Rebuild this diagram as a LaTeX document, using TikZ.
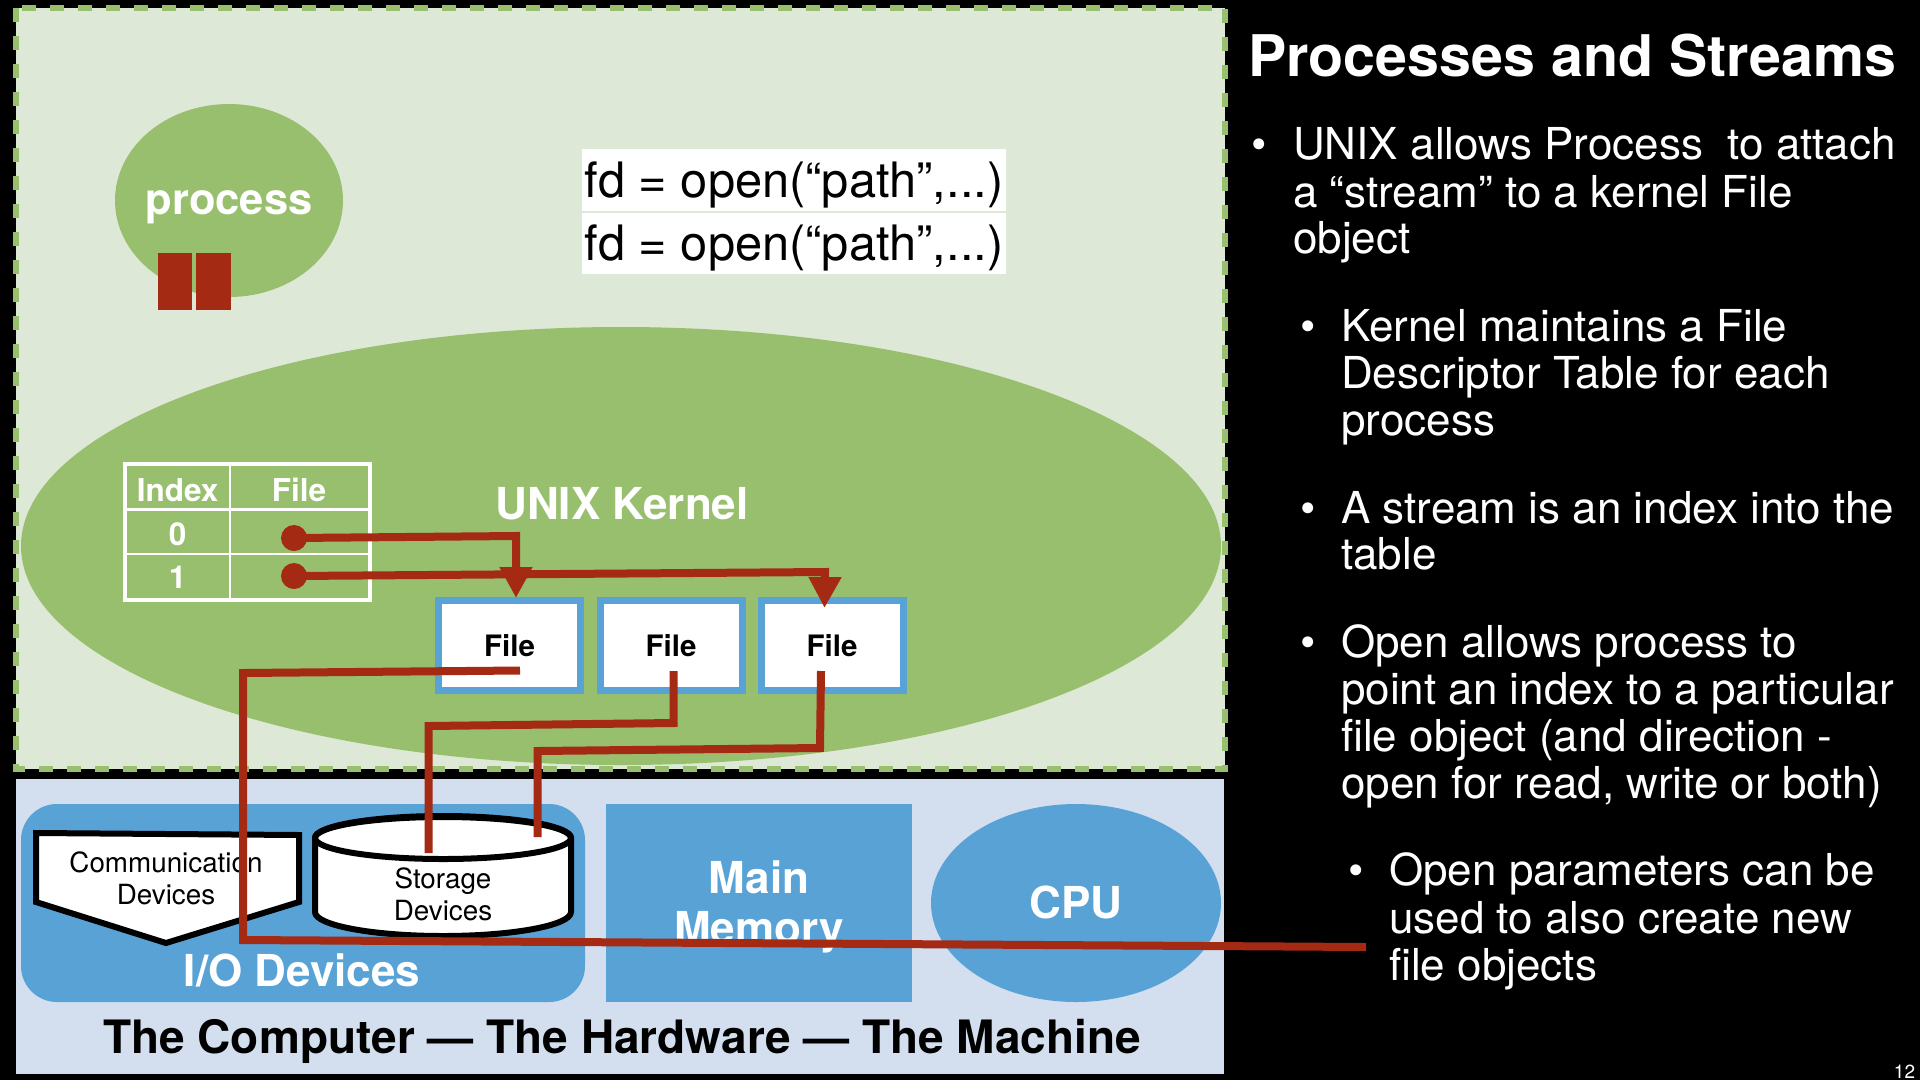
\documentclass[tikz,border=0pt]{standalone}
\usepackage{fontspec}
\setmainfont{TeX Gyre Heros}
\usetikzlibrary{arrows.meta,shapes.geometric}
\newcommand{\fsz}[1]{\fontsize{#1}{#1}\selectfont}
\definecolor{lgreen}{HTML}{DDE9D6}
\definecolor{mgreen}{HTML}{98BF6D}
\definecolor{mblue}{HTML}{58A2D6}
\definecolor{lblue}{HTML}{D3DFEF}
\definecolor{wirered}{HTML}{A42A14}
\tikzset{
  lbl/.style={inner sep=0pt,anchor=base,align=center},
  wlbl/.style={lbl,text=white,font=\bfseries\fsz{44}},
  wire/.style={draw=wirered,line width=8pt,line join=miter,line cap=butt},
  wirearrow/.style={wire,-{Triangle[width=31pt,length=31pt,fill=wirered]}},
  filebox/.style={draw=mblue,fill=white,line width=7pt,minimum width=142pt,minimum height=90pt,inner sep=0pt,font=\bfseries\fsz{29.5},text=black},
  tabtxt/.style={lbl,text=white,font=\bfseries\fsz{31.5}},
  pinhead/.style={circle,fill=wirered,minimum size=26pt,inner sep=0pt},
  body/.style={inner sep=0pt,anchor=base west,text=white,font=\fsz{44}},
  tabline/.style={draw=white,line width=2pt},
  iotxt/.style={lbl,text=black,font=\fsz{27.8}},
}
\begin{document}
\begin{tikzpicture}[x=1pt,y=-1pt]
\useasboundingbox (0,0) rectangle (1920,1080);
\fill[black] (0,0) rectangle (1920,1080);

% software area
\draw[fill=lgreen,draw=mgreen,line width=6.5pt,dash pattern=on 14pt off 14pt] (16,8) rectangle (1225,769);
\node[ellipse,fill=mgreen,minimum width=228pt,minimum height=193pt,inner sep=0pt] (proc) at (229,200.5) {};
\node[lbl,text=white,font=\bfseries\fsz{43.5}] (proclbl) at (229,214) {process};
\fill[wirered] (158,253) rectangle (192,310);
\fill[wirered] (196,253) rectangle (230.5,310);
\fill[white] (582,149) rectangle (1006,211);
\fill[white] (582,212.5) rectangle (1006,274);
\node[lbl,font=\fsz{48.8}] (fd1) at (794,197.5) {fd = open(“path”,...)};
\node[lbl,font=\fsz{48.8}] (fd2) at (794,260.5) {fd = open(“path”,...)};

% kernel
\node[ellipse,fill=mgreen,minimum width=1200pt,minimum height=438pt,inner sep=0pt] (kernel) at (621,546) {};
\node[wlbl] (kernellbl) at (622,519) {UNIX Kernel};

% table
\draw[draw=white,line width=4pt] (124.5,464) rectangle (370,600);
\draw[tabline,line width=3pt] (124.5,509) -- (370,509);
\draw[tabline] (124.5,554) -- (370,554);
\draw[tabline] (230,464) -- (230,600);
\node[tabtxt] (tidx) at (177.6,501) {Index};
\node[tabtxt] (tfile) at (299,501) {File};
\node[tabtxt] (t0) at (177.6,545) {0};
\node[tabtxt] (t1) at (177.6,588) {1};

% file boxes
\node[filebox] (f1) at (509.5,645.5) {File};
\node[filebox] (f2) at (671,645.5) {File};
\node[filebox] (f3) at (832,645.5) {File};

% hardware
\fill[lblue] (16,779) rectangle (1224,1074);
\node[inner sep=0pt,fill=mblue,rounded corners=36pt,minimum width=564pt,minimum height=198pt] (io) at (303,903) {};
\node[wlbl] (iolbl) at (302,986) {I/O Devices};
\node[inner sep=0pt,fill=mblue,minimum width=306.5pt,minimum height=198pt] (mem) at (759,903) {};
\node[wlbl] (mem1) at (759,893) {Main};
\node[wlbl] (mem2) at (759,943) {Memory};
\node[ellipse,inner sep=0pt,fill=mblue,minimum width=290pt,minimum height=198pt] (cpu) at (1076,903) {};
\node[wlbl] (cpulbl) at (1076,918) {CPU};
\node[lbl,text=black,font=\bfseries\fsz{46}] (hw) at (622,1053) {The Computer — The Hardware — The Machine};

% communication devices
\fill[white,draw=black,line width=6pt,line join=miter] (36,833) -- (299,835) -- (299,902) -- (166,943) -- (36,902) -- cycle;
\node[iotxt] (comm1) at (166,872) {Communication};
\node[iotxt] (comm2) at (166,904) {Devices};

% storage devices
\draw[fill=white,draw=black,line width=6pt] (315,838) -- (315,912) arc[start angle=180,end angle=360,x radius=128pt,y radius=24pt] -- (571,838) arc[start angle=0,end angle=180,x radius=128pt,y radius=22pt] -- cycle;
\draw[draw=black,line width=6pt] (443,838) ellipse [x radius=128pt,y radius=21pt];
\node[iotxt] (stor1) at (443,888) {Storage};
\node[iotxt] (stor2) at (443,920) {Devices};

% wires
\node[pinhead] (p0) at (294,538) {};
\node[pinhead] (p1) at (294,576) {};
\coordinate (b0) at (516,536);
\coordinate (t0tip) at (516,598);
\coordinate (b1) at (825,572);
\coordinate (t1tip) at (824.5,608);
\draw[wirearrow] (p0.center) -- (b0) -- (t0tip);
\draw[wirearrow] (p1.center) -- (b1) -- (t1tip);

\coordinate (a0) at (520,670.5);
\coordinate (a1) at (243,673);
\coordinate (a2) at (243,940);
\coordinate (a3) at (1366,947);
\draw[wire] (a0) -- (a1) -- (a2) -- (a3);

\coordinate (c0) at (673.5,671);
\coordinate (c1) at (673.5,723);
\coordinate (c2) at (428.5,726);
\coordinate (c3) at (428.5,853);
\draw[wire] (c0) -- (c1) -- (c2) -- (c3);

\coordinate (d0) at (821,671);
\coordinate (d1) at (820,748);
\coordinate (d2) at (537.5,751);
\coordinate (d3) at (537.5,837);
\draw[wire] (d0) -- (d1) -- (d2) -- (d3);

% right column
\node[inner sep=0pt,anchor=base west,text=white,font=\bfseries\fsz{57.4}] (title) at (1248,76.5) {Processes and Streams};
\node[body] (b1a) at (1251,159.5) {•};
\node[body] (l1a) at (1293,159.5) {UNIX allows Process\ \ to attach};
\node[body] (l1b) at (1293,207) {a “stream” to a kernel File};
\node[body] (l1c) at (1293,253.5) {object};
\node[body] (b2a) at (1300,341.5) {•};
\node[body] (l2a) at (1341,341.5) {Kernel maintains a File};
\node[body] (l2b) at (1341,388.5) {Descriptor Table for each};
\node[body] (l2c) at (1341,435) {process};
\node[body] (b3a) at (1300,523) {•};
\node[body] (l3a) at (1341,523) {A stream is an index into the};
\node[body] (l3b) at (1341,569.5) {table};
\node[body] (b4a) at (1300,657.5) {•};
\node[body] (l4a) at (1341,657.5) {Open allows process to};
\node[body] (l4b) at (1341,704.5) {point an index to a particular};
\node[body] (l4c) at (1341,751.5) {file object (and direction -};
\node[body] (l4d) at (1341,798.5) {open for read, write or both)};
\node[body] (b5a) at (1348,885.5) {•};
\node[body] (l5a) at (1389,885.5) {Open parameters can be};
\node[body] (l5b) at (1389,933) {used to also create new};
\node[body] (l5c) at (1389,980.5) {file objects};
\node[lbl,text=white,font=\fsz{19}] (pg) at (1904.5,1078) {12};
\end{tikzpicture}
\end{document}
